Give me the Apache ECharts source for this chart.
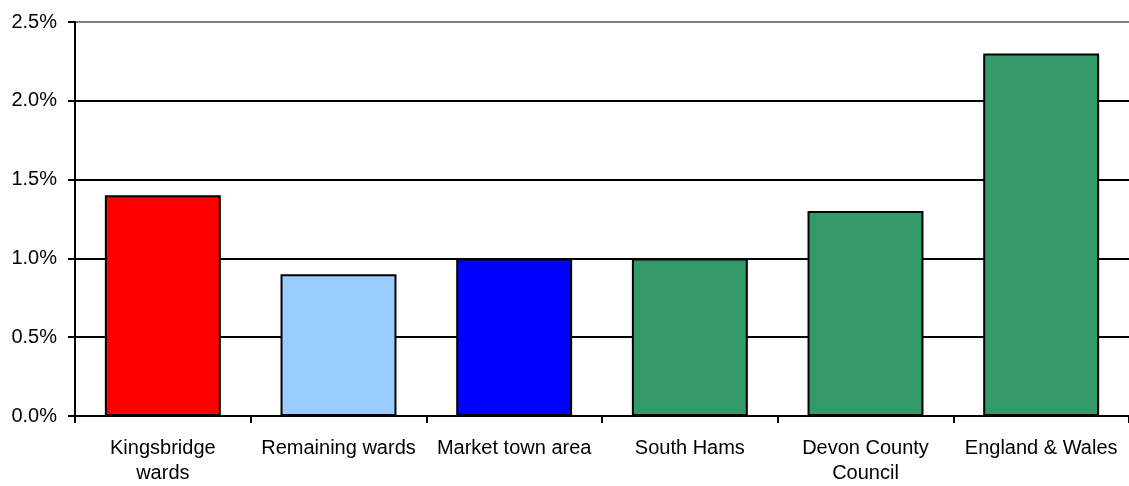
<!DOCTYPE html>
<html>
<head>
<meta charset="utf-8">
<script src="https://cdn.jsdelivr.net/npm/echarts@6/dist/echarts.min.js"></script>
<style>html,body{margin:0;padding:0;background:#fff;}#c{width:1129px;height:486px;}</style>
</head>
<body>
<div id="c"></div>
<script>
var categories = ["Kingsbridge\nwards", "Remaining wards", "Market town area", "South Hams", "Devon County\nCouncil", "England & Wales"];
var values = [1.4, 0.9, 1.0, 1.0, 1.3, 2.3];
var barColors = ["#FF0000", "#99CCFF", "#0000FF", "#339966", "#339966", "#339966"];
var yTicks = [0, 0.5, 1.0, 1.5, 2.0, 2.5];

var chart = echarts.init(document.getElementById('c'), null, {renderer: 'canvas'});
chart.setOption({
  animation: false,
  backgroundColor: '#fff',
  grid: {left: 75, right: -6, top: 22, bottom: 68, containLabel: false},
  xAxis: {
    type: 'category',
    data: categories,
    axisLine: {lineStyle: {color: '#000', width: 2}},
    axisTick: {show: true, alignWithLabel: false, length: 7, lineStyle: {color: '#000', width: 2}},
    axisLabel: {margin: 20, color: '#000', fontSize: 20, fontFamily: 'Liberation Sans, Arial, sans-serif', lineHeight: 25, interval: 0}
  },
  yAxis: {
    type: 'value',
    min: yTicks[0],
    max: yTicks[yTicks.length - 1],
    interval: 0.5,
    axisLine: {show: true, lineStyle: {color: '#000', width: 2}},
    axisTick: {show: true, length: 7, lineStyle: {color: '#000', width: 2}},
    axisLabel: {margin: 18, color: '#000', fontSize: 20, fontFamily: 'Liberation Sans, Arial, sans-serif',
      formatter: function (v) { return v.toFixed(1) + '%'; }},
    splitLine: {show: true, lineStyle: {color: ['#000', '#000', '#000', '#000', '#000', '#808080'], width: 2}}
  },
  series: [{
    type: 'bar',
    barWidth: '66%',
    data: values.map(function (v, i) {
      return {value: v, itemStyle: {color: barColors[i], borderColor: '#000', borderWidth: 2}};
    })
  }]
});
</script>
</body>
</html>
